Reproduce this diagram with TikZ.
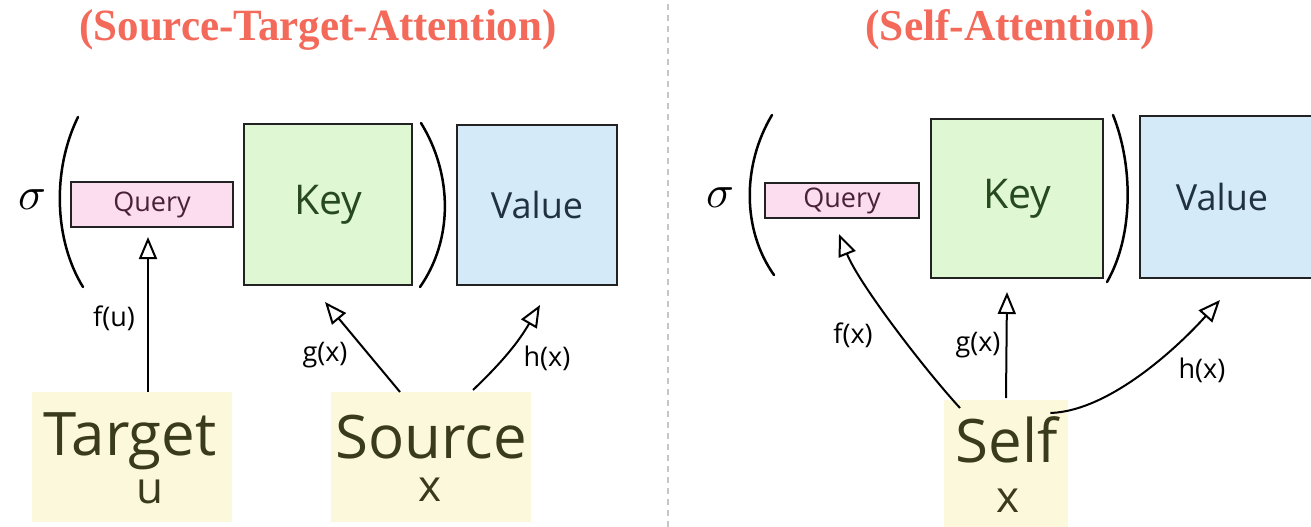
\documentclass[tikz,border=0pt]{standalone}
\usepackage{fontspec}
\usepackage{graphicx}
\usetikzlibrary{arrows.meta,calc}
\newfontfamily\handfont{Open Sans}
\newfontfamily\headfont{Liberation Serif}
\definecolor{headred}{HTML}{F3695A}
\definecolor{qfill}{HTML}{FCDDF0}
\definecolor{kfill}{HTML}{DFF7D3}
\definecolor{vfill}{HTML}{D5EAF8}
\definecolor{infill}{HTML}{FCF8DC}
\definecolor{qtext}{HTML}{4A2238}
\definecolor{ktext}{HTML}{27491F}
\definecolor{vtext}{HTML}{1F3142}
\definecolor{intext}{HTML}{3A3A1C}
\definecolor{edge}{HTML}{222222}
\tikzset{
  hand/.style={font=\handfont\fontsize{#1}{#1}\selectfont},
  panel/.style={draw=edge, line width=2pt, inner sep=0pt, anchor=north west},
  qbox/.style={panel, fill=qfill, text=qtext, hand=27},
  kbox/.style={panel, fill=kfill, text=ktext, hand=41},
  vbox/.style={panel, fill=vfill, text=vtext, hand=36},
  inbox/.style={fill=infill, inner sep=0pt, anchor=north west},
  inword/.style={hand=60, text=intext, anchor=base, inner sep=0pt},
  invar/.style={hand=44, text=intext, inner sep=0pt},
  fnlabel/.style={hand=27, text=black, inner sep=0pt},
  conn/.style={draw=black, line width=2pt,
    -{Triangle[open,length=22pt,width=18pt]}},
  paren/.style={draw=black, line width=2.5pt, line cap=round},
  sigma/.style={inner sep=0pt},
  heading/.style={text=headred, inner sep=0pt},
}
\begin{document}
\begin{tikzpicture}[x=1pt,y=-1pt]
\clip (0,0) rectangle (1311,527);
\fill[white] (0,0) rectangle (1311,527);

% headings and the divider between the two panels
\node[heading] (ttlA) at (318,30)
  {\resizebox{477pt}{31pt}{\headfont\bfseries (Source-Target-Attention)}};
\node[heading] (ttlB) at (1010,30)
  {\resizebox{289pt}{31pt}{\headfont\bfseries (Self-Attention)}};
\draw[gray!45, line width=1.5pt, dash pattern=on 6pt off 5pt] (668,4) -- (668,527);

% ---------- source-target attention ----------
\node[sigma] (sigA) at (32,200) {\scalebox{4.6}{$\sigma$}};
\draw[paren] (78,117) .. controls (52,170) and (54,240) .. (83,287);
\node[qbox, minimum width=162pt, minimum height=45pt] (queryA) at (70,181) {Query};
\node[kbox, minimum width=168pt, minimum height=161pt] (keyA) at (243,123) {Key};
\draw[paren] (421,123) .. controls (453,175) and (453,240) .. (420,287);
\node[vbox, minimum width=160pt, minimum height=160pt] (valueA) at (456,124) {Value};

\node[inbox, minimum width=200pt, minimum height=130pt] (target) at (32,392) {};
\node[inword] at ($(target.north west)+(98,63)$) {Target};
\node[invar] at ($(target.north west)+(118,100)$) {u};
\node[inbox, minimum width=200pt, minimum height=130pt] (source) at (331,392) {};
\node[inword] at ($(source.north west)+(100,66)$) {Source};
\node[invar] at ($(source.north west)+(99,98)$) {x};

\coordinate (fuTip) at ($(queryA.south)+(-4,9)$);
\draw[conn] (fuTip |- target.north) -- (fuTip);
\draw[conn] ($(source.north west)+(69,0)$) -- ($(keyA.south west)+(82,16)$);
\draw[conn] ($(source.north west)+(142,-2)$) to[bend right=8]
  ($(valueA.south west)+(84,19)$);
\node[fnlabel] at (114,318) {f(u)};
\node[fnlabel] at (325,355) {g(x)};
\node[fnlabel] at (547,358) {h(x)};

% ---------- self attention ----------
\node[sigma] (sigB) at (720,198) {\scalebox{4.6}{$\sigma$}};
\draw[paren] (772,115) .. controls (742,165) and (742,230) .. (774,275);
\node[qbox, minimum width=154pt, minimum height=35pt] (queryB) at (764,182) {Query};
\node[kbox, minimum width=172pt, minimum height=159pt] (keyB) at (930,118) {Key};
\draw[paren] (1113,115) .. controls (1133,165) and (1134,235) .. (1107,282);
\node[vbox, minimum width=190pt, minimum height=162pt] (valueB) at (1139,115) {};
\node[vbox, draw=none, fill=none, anchor=center] at ($(valueB.west)+(83,0)$) {Value};

\node[inbox, minimum width=124pt, minimum height=135pt] (self) at (944,400) {};
\node[inword] at ($(self.north west)+(63,62)$) {Self};
\node[invar] at ($(self.north west)+(64,101)$) {x};

\draw[conn] ($(self.north west)+(16,8)$) .. controls +(-35,-38) and +(20,50) ..
  ($(queryB.south)+(-3,15)$);
\draw[conn] ($(self.north west)+(62,-2)$) -- ($(keyB.south west)+(77,13)$);
\draw[conn] ($(self.north east)+(-18,13)$) .. controls +(60,-2) and +(-40,45) ..
  ($(valueB.south west)+(81,21)$);
\node[fnlabel] at (853,335) {f(x)};
\node[fnlabel] at (978,345) {g(x)};
\node[fnlabel] at (1202,370) {h(x)};
\end{tikzpicture}
\end{document}
